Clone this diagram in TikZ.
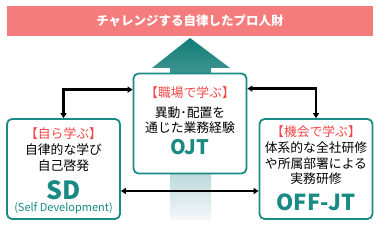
\documentclass[tikz,border=0pt]{standalone}
\usepackage{fontspec}
\setmainfont{Noto Sans CJK JP}
\usetikzlibrary{arrows.meta,calc}
\definecolor{banner}{RGB}{244,124,124}
\definecolor{teal}{RGB}{26,138,132}
\definecolor{learn}{RGB}{240,70,70}
\definecolor{shaft}{RGB}{18,125,118}

\begin{document}
\begin{tikzpicture}[x=1pt, y=-1pt, every node/.style={font=\fontsize{12.8}{15.5}\selectfont, inner sep=0pt},
    box/.style={draw=teal, line width=1.8pt, rounded corners=5pt, fill=white},
    tag/.style={text=learn},
    big/.style={text=teal, font=\fontsize{#1}{#1}\selectfont\bfseries},
    link/.style={line width=2.2pt, {Triangle[length=5pt,width=6pt]}-{Triangle[length=5pt,width=6pt]}}]
        \useasboundingbox (0,0) rectangle (380,227);
        % goal banner
        \node[fill=banner, minimum width=366pt, minimum height=30pt] (goal) at (190,21) {};
        \node[text=white, font=\fontsize{12.5}{14}\selectfont\bfseries] (goaltext) at (190,21) {チャレンジする自律したプロ人財};
        % big arrow behind
        \shade[top color=shaft, middle color={rgb,255:red,205;green,220;blue,228}, bottom color={rgb,255:red,246;green,248;blue,251}]
          (190,38) -- (230,68) -- (211,68) -- (211,220) -- (170,220) -- (170,68) -- (152,68) -- cycle;
        % three boxes
        \node[box, minimum width=113pt, minimum height=100pt] (ojt) at (190,123.5) {};
        \node[box, minimum width=113pt, minimum height=100pt] (sd) at (63.5,169) {};
        \node[box, minimum width=113pt, minimum height=100pt] (offjt) at (316,169) {};
        % OJT
        \node[tag] (ojttag) at (190,93) {【職場で学ぶ】};
        \node[align=center] (ojtdesc) at (190,120) {異動･配置を\\通じた業務経験};
        \node[big=20] (ojtname) at (190,147) {OJT};
        % SD
        \node[tag] (sdtag) at (63.5,134) {【自ら学ぶ】};
        \node[align=center] (sddesc) at (63.5,157.5) {自律的な学び\\自己啓発};
        \node[big=25] (sdname) at (63.5,190) {SD};
        \node[text=teal, font=\fontsize{11}{12}\selectfont] (sdfull) at (63.5,208.5) {(Self Development)};
        % OFF-JT
        \node[tag] (offtag) at (316,132) {【機会で学ぶ】};
        \node[align=center] (offdesc) at (316,163.5) {体系的な全社研修\\や所属部署による\\実務研修};
        \node[big=22] (offname) at (316,202) {OFF-JT};
        % links
        \draw[link] ($(ojt.north west)+(0,17)$) -| (sd.north);
        \draw[link] ($(ojt.north east)+(0,16)$) -| (offjt.north);
        \draw[link] ($(sd.east)+(0,22)$) -- ($(offjt.west)+(0,22)$);
      \end{tikzpicture}
\end{document}
